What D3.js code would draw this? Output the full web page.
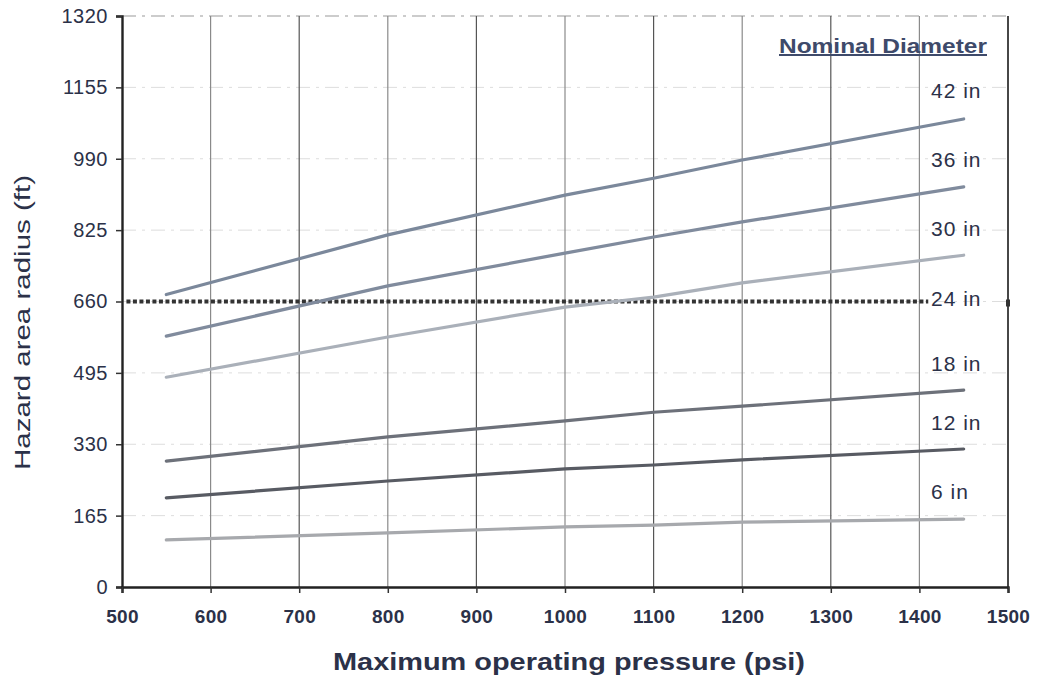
<!DOCTYPE html>
<html><head><meta charset="utf-8">
<script src="https://cdn.jsdelivr.net/npm/d3@7"></script>
<style>body{margin:0;background:#fff;} text{font-family:"Liberation Sans",Arial,sans-serif;}</style>
</head><body><svg id="c" width="1037" height="679"></svg>
<script>
const pressures = [550, 800, 1000, 1100, 1200, 1450];
const diam42 = [676, 814, 906, 945, 987, 1082];
const diam36 = [580, 696, 772, 809, 844, 925];
const diam30 = [485, 578, 647, 670, 703, 767];
const diam18 = [291, 347, 384, 404, 418, 455];
const diam12 = [206, 245, 273, 282, 294, 319];
const diam6  = [109, 125, 139, 143, 150, 157];
const threshold = 660;
const thresholdRange = [505, 1410];
const xTicks = [500,600,700,800,900,1000,1100,1200,1300,1400,1500];
const yTicks = [0,165,330,495,660,825,990,1155,1320];
const legendLabels = ["42 in","36 in","30 in","24 in","18 in","12 in","6 in"];
const legendValues = [1150, 990, 830, 668, 518, 382, 222];

const series = [
  {name:"42 in", v:diam42, color:"#7b889b"},
  {name:"36 in", v:diam36, color:"#808b9d"},
  {name:"30 in", v:diam30, color:"#aab0b9"},
  {name:"18 in", v:diam18, color:"#6d717a"},
  {name:"12 in", v:diam12, color:"#585b63"},
  {name:"6 in",  v:diam6,  color:"#a7a9ad"}
];

const svg = d3.select("#c");
const x = d3.scaleLinear().domain([500,1500]).range([122,1008]);
const y = d3.scaleLinear().domain([0,1320]).range([587,16]);

// horizontal grid (faint dashed)
svg.append("g").selectAll("line").data(yTicks.slice(1)).join("line")
  .attr("x1", x(500)).attr("x2", x(1500)).attr("y1", d=>y(d)).attr("y2", d=>y(d))
  .attr("stroke", d=> d===1320 ? "#999" : "#ddd").attr("stroke-width",1)
  .attr("stroke-dasharray","14,6,3,6");
// vertical grid
svg.append("g").selectAll("line").data(xTicks.slice(1,-1)).join("line")
  .attr("x1", d=>x(d)).attr("x2", d=>x(d)).attr("y1", y(1320)).attr("y2", y(0))
  .attr("stroke", (d,i)=> i%2===1 ? "#555" : "#8a8a8a").attr("stroke-width",1.2);

// right border
svg.append("line").attr("x1",x(1500)).attr("x2",x(1500)).attr("y1",y(1320)).attr("y2",y(0)+2)
  .attr("stroke","#333").attr("stroke-width",1.8);

// axes
const fmt = d3.format("d");
const yAxis = svg.append("g").attr("transform",`translate(${x(500)},0)`)
  .call(d3.axisLeft(y).tickValues(yTicks).tickFormat(fmt).tickSize(6).tickPadding(8));
const xAxis = svg.append("g").attr("transform",`translate(0,${y(0)})`)
  .call(d3.axisBottom(x).tickValues(xTicks).tickFormat(fmt).tickSize(6).tickPadding(17));
[yAxis,xAxis].forEach(a=>{
  a.select(".domain").attr("stroke","#222").attr("stroke-width",2.4);
  a.selectAll(".tick line").attr("stroke","#333").attr("stroke-width",1.5);
  a.selectAll(".tick text").attr("fill","#2b3148");
});
yAxis.selectAll(".tick text").attr("font-size",20).attr("letter-spacing",0.5);
xAxis.selectAll(".tick text").attr("font-size",19).attr("font-weight","bold").attr("letter-spacing",0.3);

// threshold dotted line
svg.append("line").attr("x1",x(thresholdRange[0])).attr("x2",x(thresholdRange[1]))
  .attr("y1",y(threshold)).attr("y2",y(threshold))
  .attr("stroke","#333").attr("stroke-width",4).attr("stroke-dasharray","4,2.5");
svg.append("rect").attr("x",x(1500)-2).attr("y",y(threshold)-2).attr("width",4).attr("height",7).attr("fill","#333");

// series lines
const line = d3.line().x((d,i)=>x(pressures[i])).y(d=>y(d));
svg.append("g").selectAll("path").data(series).join("path")
  .attr("d", s=>line(s.v)).attr("fill","none")
  .attr("stroke", s=>s.color).attr("stroke-width",3.2).attr("stroke-linecap","round");

// legend
svg.append("text").attr("x",779).attr("y",53)
  .attr("font-size",20).attr("font-weight","bold").attr("fill","#3e4a6a")
  .attr("textLength",208).attr("lengthAdjust","spacingAndGlyphs")
  .attr("text-decoration","underline").text("Nominal Diameter");
svg.append("g").selectAll("text").data(legendLabels).join("text")
  .attr("x",931).attr("y",(d,i)=>y(legendValues[i])+8)
  .attr("font-size",21).attr("letter-spacing",1).attr("fill","#2b3148").text(d=>d);

// axis titles
svg.append("text").attr("x",333).attr("y",670)
  .attr("font-size",24).attr("font-weight","bold").attr("fill","#2b3148")
  .attr("textLength",472).attr("lengthAdjust","spacingAndGlyphs")
  .text("Maximum operating pressure (psi)");
svg.append("text").attr("transform","translate(30,470) rotate(-90)")
  .attr("font-size",22).attr("fill","#2b3148")
  .attr("textLength",295).attr("lengthAdjust","spacingAndGlyphs")
  .text("Hazard area radius (ft)");
</script></body></html>
